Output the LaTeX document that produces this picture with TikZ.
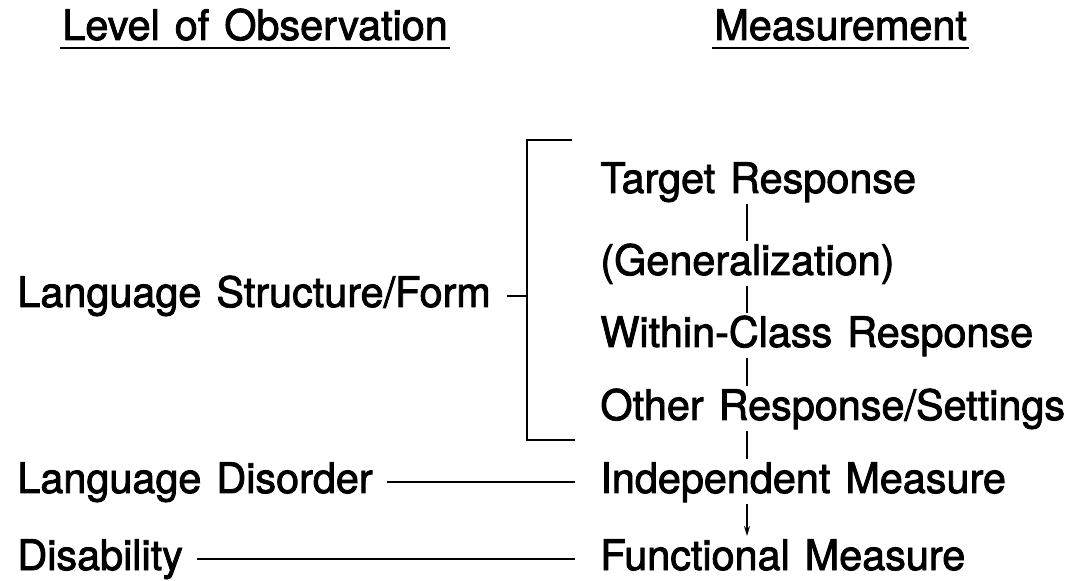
\documentclass[tikz,border=0pt]{standalone}
\usepackage{fontspec}
\setmainfont{TeX Gyre Heros}
\newfontfamily\bodyfont{TeX Gyre Heros}[FakeStretch=0.985,FakeBold=2]
\usetikzlibrary{arrows.meta}
\begin{document}
\begin{tikzpicture}[x=0.5pt,y=-0.5pt,
  lbl/.style={anchor=base west, inner sep=1pt,
    font=\bodyfont\fontsize{21}{25}\selectfont,
    execute at begin node={\spaceskip=7.5pt\relax},
    text height=15.8pt, text depth=4.5pt},
  ln/.style={line width=0.9pt},
  conn/.style={line width=0.7pt}]
\useasboundingbox (0,0) rectangle (1074,581);
% headers
\node[lbl] (h1) at (60,40) {Level of Observation};
\node[lbl] (h2) at (712,40) {Measurement};
\draw[ln] ([yshift=-4pt]h1.base west) -- ([yshift=-4pt]h1.base east);
\draw[ln] ([yshift=-4pt]h2.base west) -- ([yshift=-4pt]h2.base east);
% left column
\node[lbl] (lsf) at (15,307) {Language Structure/Form};
\node[lbl] (ld) at (15,493) {Language Disorder};
\node[lbl] (dis) at (15,570) {Disability};
% right column
\node[lbl] (tr) at (598,193) {Target Response};
\node[lbl] (gen) at (598,275) {(Generalization)};
\node[lbl] (wc) at (598,347) {Within-Class Response};
\node[lbl] (oth) at (598,420) {Other Response/Settings};
\node[lbl] (ind) at (598,493) {Independent Measure};
\node[lbl] (fm) at (598,570) {Functional Measure};
% bracket
\coordinate (bt) at (572,140);
\coordinate (bb) at (575,440);
\coordinate (bx) at (527,0);
\draw[ln] (bt) -- (bt -| bx) -- (bb -| bx) -- (bb);
\draw[ln] ([xshift=-10pt]lsf.east -| bx) -- (lsf.east -| bx);
% connectors
\draw[ln] ([xshift=6pt]ld.east) -- (ld.east -| bb);
\draw[ln] ([xshift=6pt]dis.east) -- (dis.east -| bb);
% vertical flow
\coordinate (ax) at (747,0);
\draw[conn] (tr.south -| ax) -- (gen.north -| ax);
\draw[conn] (gen.south -| ax) -- (wc.north -| ax);
\draw[conn] (wc.south -| ax) -- (oth.north -| ax);
\draw[conn] (oth.south -| ax) -- (ind.north -| ax);
\draw[conn,-{Stealth[length=5pt,width=3pt]}] (ind.south -| ax) -- (fm.north -| ax);
\end{tikzpicture}
\end{document}
